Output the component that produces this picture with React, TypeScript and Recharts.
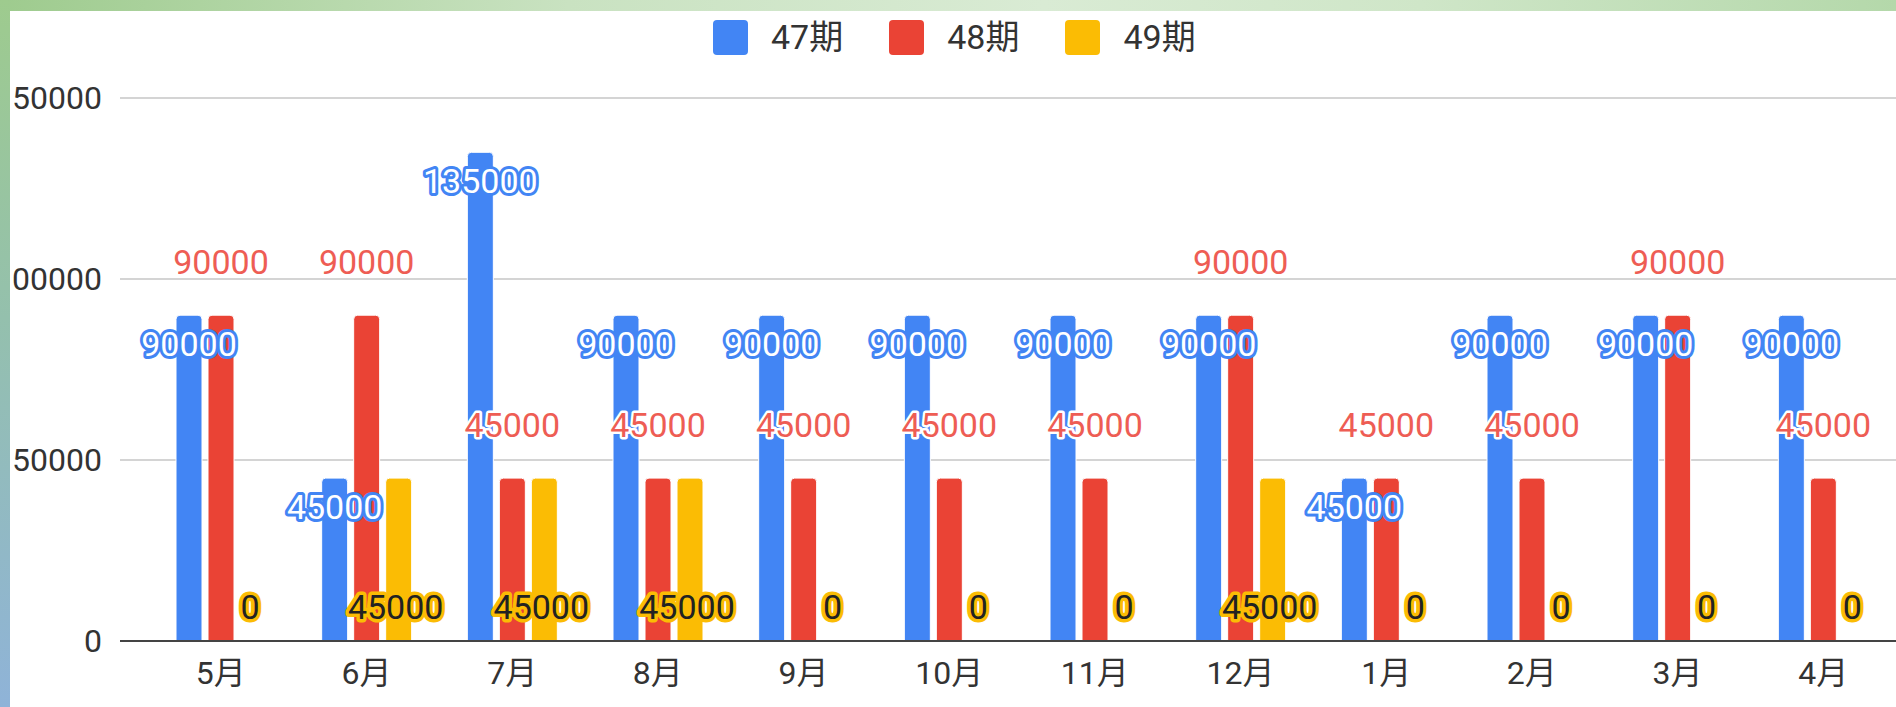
import React from "react";
import { BarChart, Bar, XAxis, YAxis, CartesianGrid, Legend, LabelList, Rectangle } from "recharts";

const months = ["5月", "6月", "7月", "8月", "9月", "10月", "11月", "12月", "1月", "2月", "3月", "4月"];
const s47 = [90000, 45000, 135000, 90000, 90000, 90000, 90000, 90000, 45000, 90000, 90000, 90000];
const s48 = [90000, 90000, 45000, 45000, 45000, 45000, 45000, 90000, 45000, 45000, 90000, 45000];
const s49 = [0, 45000, 45000, 45000, 0, 0, 0, 45000, 0, 0, 0, 0];
const seriesNames = ["47期", "48期", "49期"];
const yTicks = [0, 50000, 100000, 150000];

const BLUE = "#4285f4";
const RED = "#ea4335";
const YELLOW = "#fbbc04";
const FONT = "Roboto, 'Noto Sans CJK JP', sans-serif";

const data = months.map((m, i) => ({ month: m, a: s47[i], b: s48[i], c: s49[i] }));

const BlueLabel = (p: any) => {
  const { x, y, width, value } = p;
  return (
    <text x={x + width / 2} y={y + 29} textAnchor="middle" dominantBaseline="central"
      fontFamily={FONT} fontSize={34} fill="#ffffff" stroke={BLUE} strokeWidth={6}
      strokeLinejoin="round" paintOrder="stroke">{value}</text>
  );
};
const RedLabel = (p: any) => {
  const { x, y, width, value } = p;
  return (
    <text x={x + width / 2} y={y - 53} textAnchor="middle" dominantBaseline="central"
      fontFamily={FONT} fontSize={34} fill="#ee5d54" stroke="#ffffff" strokeWidth={5}
      strokeLinejoin="round" paintOrder="stroke">{value}</text>
  );
};
const YellowLabel = (p: any) => {
  const { x, y, width, height, value } = p;
  return (
    <text x={x + width / 2 - 3} y={y + height - 34} textAnchor="middle" dominantBaseline="central"
      fontFamily={FONT} fontSize={34} fill="#222222" stroke={YELLOW} strokeWidth={7}
      strokeLinejoin="round" paintOrder="stroke">{value}</text>
  );
};

const YellowShape = (p: any) => {
  if (!p.value && p.value !== undefined && Number(p.c ?? p.value) === 0) return <g />;
  if (p.payload && p.payload.c === 0) return <g />;
  return <Rectangle {...p} />;
};

const XTick = (p: any) => {
  const { x, y, payload } = p;
  return (
    <text x={x} y={y + 32} textAnchor="middle" dominantBaseline="central"
      fontFamily={FONT} fontSize={32} fill="#333333">{payload.value}</text>
  );
};
const YTick = (p: any) => {
  const { x, y, payload } = p;
  return (
    <text x={x} y={y} textAnchor="end" dominantBaseline="central"
      fontFamily={FONT} fontSize={32} fill="#333333">{payload.value}</text>
  );
};

const colors = [BLUE, RED, YELLOW];
const renderLegend = () => (
  <div style={{ position: "absolute", left: 713, top: 20, display: "flex", alignItems: "center", fontFamily: FONT }}>
    {seriesNames.map((n, i) => (
      <div key={n} style={{ display: "flex", alignItems: "center", marginRight: i < 2 ? 46 : 0 }}>
        <div style={{ width: 35, height: 35, borderRadius: 4, background: colors[i], marginRight: 23 }} />
        <span style={{ fontSize: 34, color: "#333333", lineHeight: "35px" }}>{n}</span>
      </div>
    ))}
  </div>
);

export default function App() {
  return (
    <div style={{ position: "fixed", left: 0, top: 0, width: 1896, height: 707, background: "#ffffff", overflow: "hidden" }}>
      <BarChart width={1896} height={707} data={data} margin={{ top: 98, right: 0, bottom: 0, left: 0 }}
        barSize={26} barGap={6}>
        <CartesianGrid vertical={false} stroke="#d4d4d4" strokeWidth={2} />
        <XAxis dataKey="month" height={66} tickSize={0} tickMargin={0} padding={{ left: 28, right: 0 }}
          axisLine={{ stroke: "#444444", strokeWidth: 2 }} tickLine={false} tick={<XTick />} interval={0} />
        <YAxis width={120} domain={[0, 150000]} ticks={yTicks} tickSize={0} tickMargin={18}
          axisLine={false} tickLine={false} tick={<YTick />} />
        <Legend verticalAlign="middle" align="center" content={renderLegend}
          wrapperStyle={{ top: 0, left: 0, width: 1896, height: 60 }} />
        <Bar dataKey="a" name={seriesNames[0]} fill={BLUE} radius={[4, 4, 0, 0]} isAnimationActive={false}
          stroke="#ffffff" strokeWidth={1}>
          <LabelList dataKey="a" content={<BlueLabel />} />
        </Bar>
        <Bar dataKey="b" name={seriesNames[1]} fill={RED} radius={[4, 4, 0, 0]} isAnimationActive={false}
          stroke="#ffffff" strokeWidth={1}>
          <LabelList dataKey="b" content={<RedLabel />} />
        </Bar>
        <Bar dataKey="c" name={seriesNames[2]} fill={YELLOW} radius={[4, 4, 0, 0]} isAnimationActive={false}
          stroke="#ffffff" strokeWidth={1} minPointSize={1} shape={<YellowShape />}>
          <LabelList dataKey="c" content={<YellowLabel />} />
        </Bar>
      </BarChart>
      <div style={{ position: "absolute", left: 0, top: 0, width: 1896, height: 11, zIndex: 10,
        background: "linear-gradient(to right, #9ecb8e 0%, #c9e2c1 30%, #d9ebd4 55%, #cfe6c8 75%, #b4d8aa 100%)" }} />
      <div style={{ position: "absolute", left: 0, top: 0, width: 10, height: 707, zIndex: 11,
        background: "linear-gradient(to bottom, #9ecb8e 0%, #94c0ad 45%, #8fb3d8 100%)" }} />
    </div>
  );
}
